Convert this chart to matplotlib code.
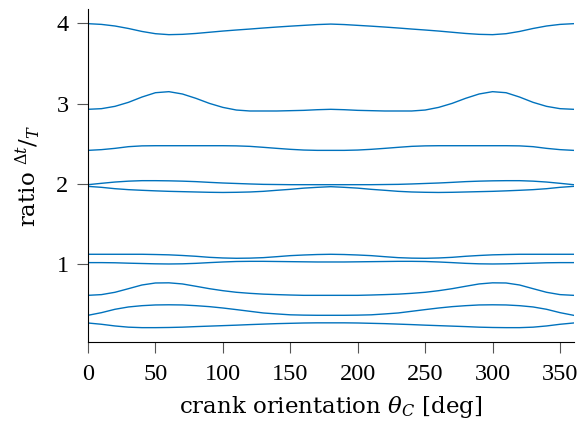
import matplotlib
matplotlib.use("Agg")
import matplotlib.pyplot as plt
import numpy as np

theta = list(range(0, 361, 10))

c1 = [3.997, 3.988, 3.968, 3.937, 3.900, 3.872, 3.860, 3.864, 3.875, 3.890, 3.905, 3.918, 3.930, 3.943, 3.955, 3.966, 3.976, 3.986, 3.992,
      3.986, 3.976, 3.966, 3.955, 3.943, 3.930, 3.918, 3.905, 3.890, 3.875, 3.864, 3.860, 3.872, 3.900, 3.937, 3.968, 3.988, 3.997]
c2 = [2.929, 2.937, 2.966, 3.016, 3.082, 3.136, 3.149, 3.120, 3.066, 3.003, 2.953, 2.920, 2.908, 2.908, 2.908, 2.912, 2.916, 2.924, 2.929,
      2.924, 2.916, 2.912, 2.908, 2.908, 2.908, 2.920, 2.953, 3.003, 3.066, 3.120, 3.149, 3.136, 3.082, 3.016, 2.966, 2.937, 2.929]
c3 = [2.417, 2.426, 2.442, 2.463, 2.473, 2.475, 2.475, 2.475, 2.475, 2.475, 2.475, 2.473, 2.467, 2.455, 2.442, 2.430, 2.421, 2.417, 2.417,
      2.417, 2.421, 2.430, 2.442, 2.455, 2.467, 2.473, 2.475, 2.475, 2.475, 2.475, 2.475, 2.475, 2.473, 2.463, 2.442, 2.426, 2.417]
c4 = [1.989, 2.006, 2.022, 2.033, 2.039, 2.039, 2.037, 2.033, 2.027, 2.018, 2.010, 2.004, 1.998, 1.993, 1.991, 1.989, 1.989, 1.989, 1.989,
      1.989, 1.989, 1.989, 1.991, 1.993, 1.998, 2.004, 2.010, 2.018, 2.027, 2.033, 2.037, 2.039, 2.039, 2.033, 2.022, 2.006, 1.989]
c5 = [1.968, 1.956, 1.939, 1.927, 1.919, 1.912, 1.906, 1.902, 1.898, 1.894, 1.892, 1.894, 1.898, 1.906, 1.919, 1.931, 1.946, 1.956, 1.964,
      1.956, 1.946, 1.931, 1.919, 1.906, 1.898, 1.894, 1.892, 1.894, 1.898, 1.902, 1.906, 1.912, 1.919, 1.927, 1.939, 1.956, 1.968]
c6 = [1.121, 1.121, 1.121, 1.121, 1.121, 1.118, 1.114, 1.106, 1.096, 1.083, 1.075, 1.071, 1.073, 1.079, 1.091, 1.104, 1.112, 1.118, 1.121,
      1.118, 1.112, 1.104, 1.091, 1.079, 1.073, 1.071, 1.075, 1.083, 1.096, 1.106, 1.114, 1.118, 1.121, 1.121, 1.121, 1.121, 1.121]
c7 = [1.017, 1.017, 1.015, 1.010, 1.006, 1.002, 1.000, 1.002, 1.008, 1.017, 1.025, 1.031, 1.033, 1.033, 1.031, 1.029, 1.027, 1.025, 1.025,
      1.025, 1.027, 1.029, 1.031, 1.033, 1.033, 1.031, 1.025, 1.017, 1.008, 1.002, 1.000, 1.002, 1.006, 1.010, 1.015, 1.017, 1.017]
c8 = [0.609, 0.618, 0.647, 0.692, 0.738, 0.763, 0.765, 0.751, 0.722, 0.692, 0.667, 0.647, 0.634, 0.624, 0.618, 0.613, 0.609, 0.609, 0.609,
      0.609, 0.609, 0.613, 0.618, 0.624, 0.634, 0.647, 0.667, 0.692, 0.722, 0.751, 0.765, 0.763, 0.738, 0.692, 0.647, 0.618, 0.609]
c9 = [0.360, 0.393, 0.435, 0.464, 0.480, 0.489, 0.491, 0.489, 0.480, 0.468, 0.451, 0.431, 0.410, 0.389, 0.377, 0.366, 0.362, 0.360, 0.360,
      0.360, 0.362, 0.366, 0.377, 0.389, 0.410, 0.431, 0.451, 0.468, 0.480, 0.489, 0.491, 0.489, 0.480, 0.464, 0.435, 0.393, 0.360]
c10 = [0.264, 0.248, 0.227, 0.212, 0.206, 0.206, 0.208, 0.212, 0.219, 0.225, 0.231, 0.237, 0.244, 0.250, 0.256, 0.260, 0.264, 0.266, 0.266,
       0.266, 0.264, 0.260, 0.256, 0.250, 0.244, 0.237, 0.231, 0.225, 0.219, 0.212, 0.208, 0.206, 0.206, 0.212, 0.227, 0.248, 0.264]

curves = [c1, c2, c3, c4, c5, c6, c7, c8, c9, c10]

xticks = [0, 50, 100, 150, 200, 250, 300, 350]
yticks = [1, 2, 3, 4]

plt.rcParams['font.family'] = ['Liberation Serif', 'DejaVu Serif']
plt.rcParams['mathtext.fontset'] = 'dejavuserif'

fig = plt.figure(figsize=(5.8, 4.28), dpi=100)
ax = fig.add_axes([88/580, 1-342/428, (573.5-88)/580, (342-9)/428])

for c in curves:
    ax.plot(theta, c, color='#0072BD', lw=1.0)

ax.set_xlim(0, 360)
ax.set_ylim(0.027, 4.18)
ax.set_xticks(xticks)
ax.set_yticks(yticks)
ax.spines['top'].set_visible(False)
ax.spines['right'].set_visible(False)
for s in ['left', 'bottom']:
    ax.spines[s].set_linewidth(0.8)
ax.tick_params(direction='out', length=8, width=0.8, color='#555555',
               labelsize=17.5)
ax.tick_params(axis='x', pad=8)
ax.tick_params(axis='y', pad=6)
ax.set_xlabel(r'crank orientation $\theta_C$ [deg]', fontsize=16.5,
              family='DejaVu Serif', labelpad=6)
ax.set_ylabel(r'ratio ${}^{\Delta t}/{}_{T}$', fontsize=16.5,
              family='DejaVu Serif', labelpad=10)

fig.savefig('out.png', dpi=100)
